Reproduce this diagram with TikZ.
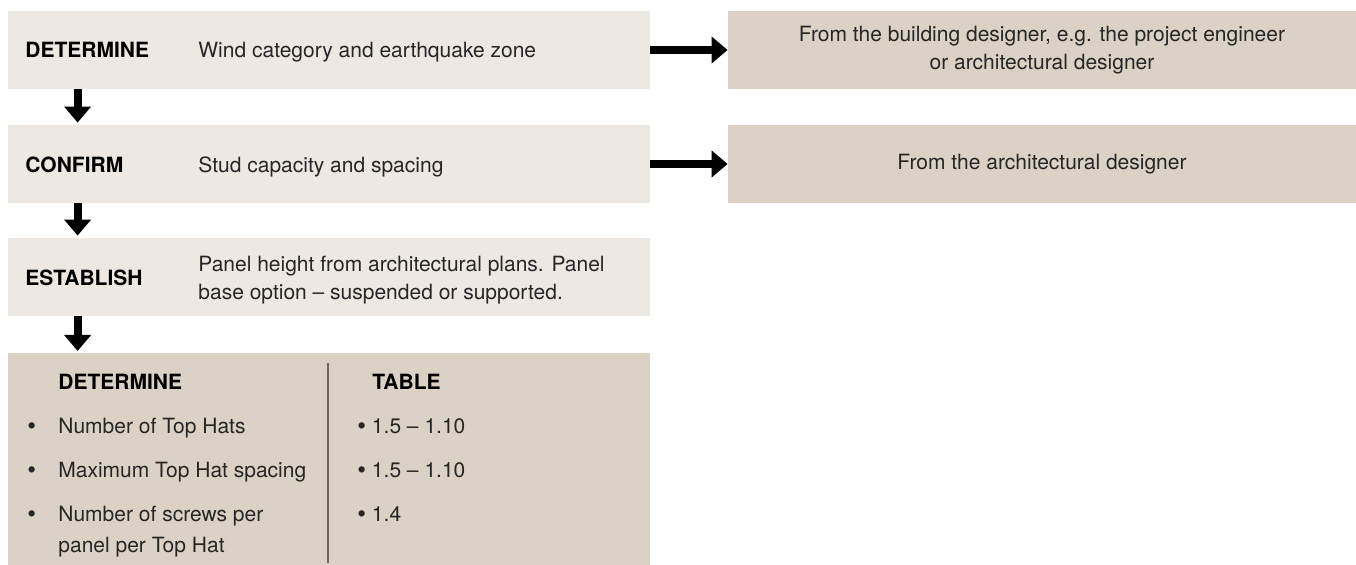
\documentclass[tikz,border=0pt]{standalone}
\usepackage{fontspec}
\setmainfont{TeX Gyre Heros}
\usetikzlibrary{arrows.meta}
\definecolor{stepfill}{HTML}{EDE8E2}
\definecolor{srcfill}{HTML}{DBD1C5}
\definecolor{rulegray}{HTML}{6B6560}
\newcommand{\bigdot}{{\fontsize{12.5}{14}\selectfont\raisebox{-0.5pt}{\textbullet}}}
\begin{document}
\begin{tikzpicture}[x=0.5pt, y=-0.5pt,
		stepbox/.style={rectangle, fill=stepfill, minimum width=321pt, minimum height=39pt, inner sep=0pt},
		srcbox/.style={rectangle, fill=srcfill, minimum width=314pt, minimum height=39pt, inner sep=0pt,
	align=center, text=black!85, font=\fontsize{10.5}{14}\selectfont},
		head/.style={anchor=base west, inner sep=0pt, font=\fontsize{10.5}{14}\selectfont\bfseries},
		body/.style={anchor=base west, inner sep=0pt, align=left, text=black!85, font=\fontsize{10.5}{14}\selectfont},
		flowarrow/.style={line width=4pt, -{Triangle[width=13pt,length=8pt]}}]
			\useasboundingbox (0,0) rectangle (1356,565);
			\node[stepbox] (det) at (329,50) {};
			\node[stepbox] (conf) at (329,164) {};
			\node[stepbox] (est) at (329,277) {};
			\node[stepbox, fill=srcfill, minimum height=106pt, anchor=north] (tab) at (329,353) {};
			\node[srcbox] (src1) at (1042,50) {From the building designer, e.g. the project engineer\\or architectural designer};
			\node[srcbox] (src2) at (1042,164) {From the architectural designer};
			\node[head] (detlbl) at (25,58) {DETERMINE};
			\node[body] (dettxt) at (198,58) {Wind category and earthquake zone};
			\node[head] (conflbl) at (25,173) {CONFIRM};
			\node[body] (conftxt) at (198,173) {Stud capacity and spacing};
			\node[head] (estlbl) at (25,286) {ESTABLISH};
			\node[body] (esttxt) at (198,300) {Panel height from architectural plans. Panel\\base option -- suspended or supported.};
			\node[head] (tabdet) at (58,390) {DETERMINE};
			\node[head] (tabref) at (372,390) {TABLE};
			\node[body] (dot1) at (27,434) {\bigdot};
			\node[body] (row1) at (58,434) {Number of Top Hats};
			\node[body] (dot2) at (27,478) {\bigdot};
			\node[body] (row2) at (58,478) {Maximum Top Hat spacing};
			\node[body] (dot3) at (27,522) {\bigdot};
			\node[body, font=\fontsize{10.5}{15.5}\selectfont] (row3) at (58,553) {Number of screws per\\panel per Top Hat};
			\node[body] (ref1) at (357,434) {\bigdot\ 1.5 -- 1.10};
			\node[body] (ref2) at (357,478) {\bigdot\ 1.5 -- 1.10};
			\node[body] (ref3) at (357,522) {\bigdot\ 1.4};
			\draw[rulegray, line width=0.8pt] (328,363) -- (328,563);
			\draw[flowarrow] (det.east) -- (src1.west);
			\draw[flowarrow] (conf.east) -- (src2.west);
			\draw[flowarrow] ([xshift=35pt]det.south west) -- ([xshift=35pt,yshift=1pt]conf.north west);
			\draw[flowarrow] ([xshift=35pt]conf.south west) -- ([xshift=35pt,yshift=1pt]est.north west);
			\draw[flowarrow] ([xshift=35pt]est.south west) -- ([xshift=35pt,yshift=1pt]tab.north west);
		\end{tikzpicture}
\end{document}
